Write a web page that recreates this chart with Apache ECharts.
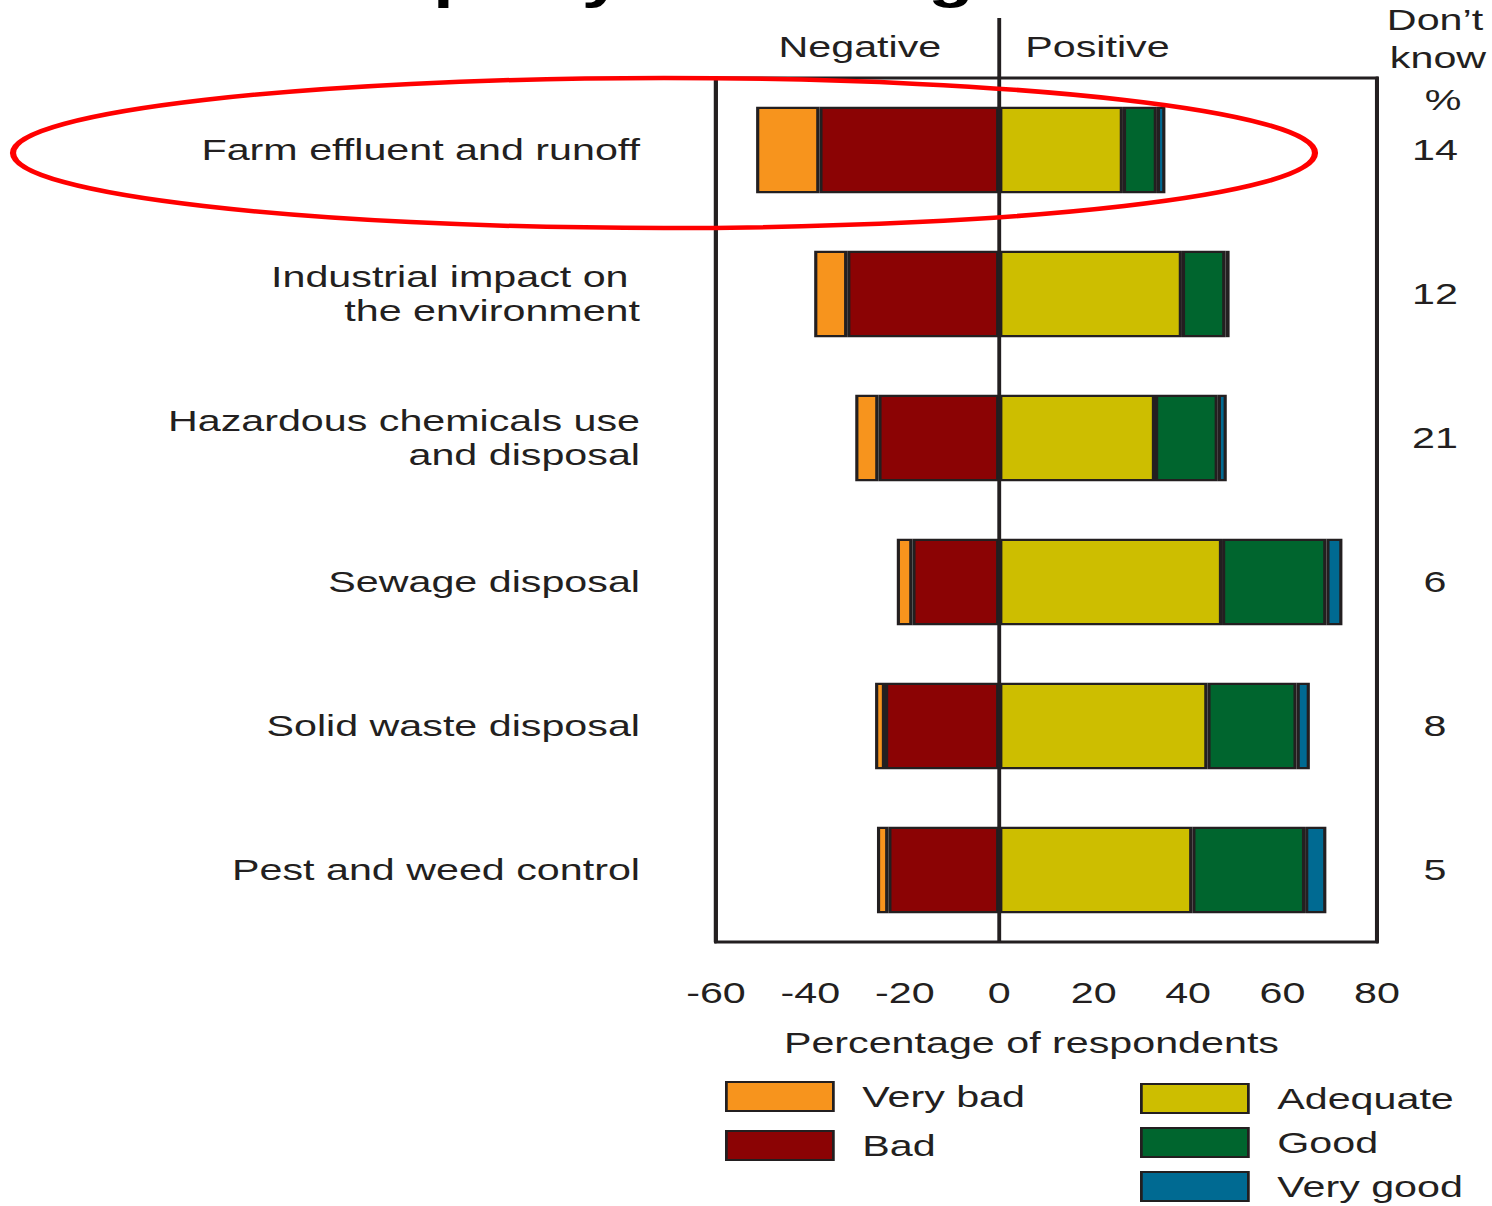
<!DOCTYPE html>
<html>
<head>
<meta charset="utf-8">
<title>Adequacy of management</title>
<script src="https://cdn.jsdelivr.net/npm/echarts@6/dist/echarts.min.js"></script>
<style>
    html, body { margin: 0; padding: 0; background: #fff; overflow: hidden; }
    /* 原图是横向拉伸过的，这里用同样的拉伸 */
    #chart { width: 1085px; height: 1206px; transform: scaleX(1.375); transform-origin: 0 0; }
</style>
</head>
<body>
<div id="chart"></div>
<script>
// 数据
const categories = [
    'Farm effluent and runoff',
    'Industrial impact on \nthe environment',
    'Hazardous chemicals use\nand disposal',
    'Sewage disposal',
    'Solid waste disposal',
    'Pest and weed control'
];
const veryBad = [13.4, 7.0, 4.9, 3.3, 2.1, 2.4];
const bad = [38.1, 32.2, 25.6, 18.4, 24.2, 23.5];
const adequate = [26.2, 38.7, 33.0, 47.2, 44.1, 40.9];
const good = [7.2, 9.2, 13.3, 22.1, 18.9, 23.9];
const veryGood = [1.8, 0.9, 1.9, 3.4, 2.8, 4.5];
const dontKnow = [14, 12, 21, 6, 8, 5];
const xTicks = [-60, -40, -20, 0, 20, 40, 60, 80];

const SX = 1.375;          // 横向拉伸
const FONT = 'Liberation Sans';
const INK = '#231f20';

// 图上的横向像素 -> 容器里的像素
function sx(v) {
    return v / SX;
}

// 一组堆叠柱
function barSeries(name, values, color, sign) {
    return {
        name: name,
        type: 'bar',
        stack: 'rating',
        barWidth: '60%',
        silent: true,
        data: values.map(v => sign * v),
        itemStyle: {color: color, borderColor: INK, borderWidth: 2.3}
    };
}

function legendBlock(names, left, top, gap) {
    return {
        data: names,
        orient: 'vertical',
        left: sx(left),
        top: top,
        height: 200,
        padding: 0,
        icon: 'rect',
        itemWidth: sx(107),
        itemHeight: 29,
        itemGap: gap,
        selectedMode: false,
        textStyle: {fontFamily: FONT, fontSize: 30, lineHeight: 29, color: INK, padding: [0, 0, 0, sx(22)]}
    };
}

let chart = echarts.init(document.getElementById('chart'), null, {renderer: 'svg'});

let option = {
    animation: false,
    backgroundColor: '#fff',
    // 标题在原图里被上边裁掉了，只露出下伸笔画
    title: {
        text: 'Adequacy of management',
        left: 195,
        top: -49,
        padding: 0,
        textStyle: {fontFamily: FONT, fontSize: 54, fontWeight: 'bold', color: '#000'}
    },
    legend: [
        legendBlock(['Very bad', 'Bad'], 725, 1081, 18),
        legendBlock(['Adequate', 'Good', 'Very good'], 1140, 1083, 13)
    ],
    grid: {
        left: sx(716), right: sx(1492 - 1377), top: 78, bottom: 264,
        show: true, borderColor: INK, borderWidth: 2.8, backgroundColor: 'transparent'
    },
    xAxis: {
        type: 'value',
        min: xTicks[0],
        max: xTicks[xTicks.length - 1],
        interval: 20,
        splitLine: {show: false},
        axisLine: {lineStyle: {color: INK, width: 2.8}},
        axisTick: {length: 14, lineStyle: {color: INK, width: 2.8}},
        axisLabel: {fontFamily: FONT, fontSize: 30, color: INK, margin: 36},
        name: 'Percentage of respondents',
        nameLocation: 'middle',
        nameGap: 86,
        nameTextStyle: {fontFamily: FONT, fontSize: 30, color: INK, padding: [0, sx(30), 0, 0]}
    },
    yAxis: [
        {
            type: 'category',
            data: categories,
            inverse: true,
            axisLine: {onZero: false, lineStyle: {color: INK, width: 2.8}},
            axisTick: {alignWithLabel: true, length: sx(20), lineStyle: {color: INK, width: 2.8}},
            axisLabel: {fontFamily: FONT, fontSize: 30, color: INK, margin: sx(76), lineHeight: 34}
        },
        {
            type: 'category',
            data: categories,
            inverse: true,
            position: 'right',
            axisLine: {onZero: false, lineStyle: {color: INK, width: 2.8}},
            axisTick: {show: false},
            axisLabel: {
                fontFamily: FONT, fontSize: 30, color: INK, margin: sx(58), align: 'center',
                formatter: (v, i) => String(dontKnow[i])
            }
        }
    ],
    series: [
        barSeries('Bad', bad, '#8b0304', -1),
        barSeries('Very bad', veryBad, '#f7941d', -1),
        barSeries('Adequate', adequate, '#cdbe00', 1),
        barSeries('Good', good, '#00652e', 1),
        barSeries('Very good', veryGood, '#006a92', 1)
    ]
};

chart.setOption(option);

// 零线、上方文字和红圈
let x0 = chart.convertToPixel({xAxisIndex: 0}, 0);
let yBottom = 1206 - 264;
let font = '30px "' + FONT + '"';
chart.setOption({
    graphic: [
        {
            type: 'line', z: 50,
            shape: {x1: x0, y1: 18, x2: x0, y2: yBottom},
            style: {stroke: INK, lineWidth: 2.8}
        },
        {
            type: 'text', z: 50, x: x0 - sx(58), y: 47,
            style: {text: 'Negative', font: font, fill: INK, align: 'right', verticalAlign: 'middle'}
        },
        {
            type: 'text', z: 50, x: x0 + sx(26), y: 47,
            style: {text: 'Positive', font: font, fill: INK, align: 'left', verticalAlign: 'middle'}
        },
        {
            type: 'text', z: 50, x: sx(1435), y: 20,
            style: {text: 'Don\u2019t', font: font, fill: INK, align: 'center', verticalAlign: 'middle'}
        },
        {
            type: 'text', z: 50, x: sx(1438), y: 58,
            style: {text: 'know', font: font, fill: INK, align: 'center', verticalAlign: 'middle'}
        },
        {
            type: 'text', z: 50, x: sx(1443), y: 100,
            style: {text: '%', font: font, fill: INK, align: 'center', verticalAlign: 'middle'}
        },
        {
            type: 'ellipse', z: 60,
            shape: {cx: sx(664), cy: 153, rx: sx(651), ry: 75},
            style: {fill: 'none', stroke: '#ff0000', lineWidth: 4.5}
        }
    ]
});

window.onresize = function () {
    chart.resize();
};
</script>
</body>
</html>
